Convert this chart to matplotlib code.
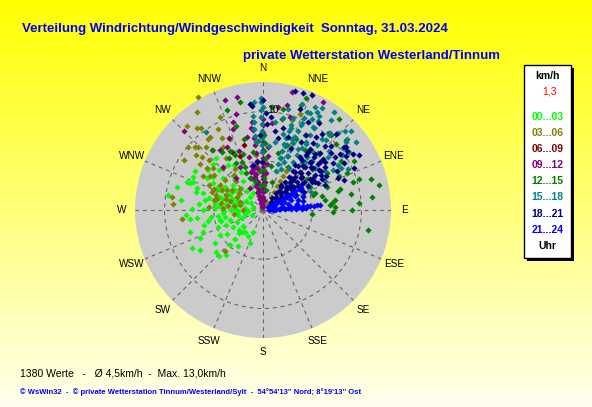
import numpy as np
import matplotlib
matplotlib.use("Agg")
import matplotlib.pyplot as plt
from matplotlib.patches import Rectangle

# Messwerte als (Windrichtung in Grad, Geschwindigkeit in km/h), je 3-Stunden-Block
pts_00_03 = [(266, 7.8), (253, 7.8), (246, 7.0), (238, 7.6), (235, 5.9), (228, 6.4), (224, 6.5), (219, 5.9),
             (223, 4.9), (224, 4.1), (224, 3.1), (219, 2.9), (227, 3.4), (201, 3.6), (204, 2.5), (240, 5.1),
             (249, 4.9), (257, 4.5), (253, 3.5), (270, 6.1), (272, 5.6), (266, 4.1), (258, 2.6), (240, 3.5),
             (245, 2.9), (246, 1.2), (290, 8.2), (292, 7.7), (279, 9.8), (285, 7.0), (303, 6.1), (318, 7.1),
             (306, 6.9), (295, 7.9), (290, 7.9), (334, 6.6), (327, 5.5), (275, 4.5), (280, 3.8), (285, 4.2),
             (290, 3.3), (295, 4.8), (300, 3.6), (305, 2.8), (310, 4.0), (315, 3.1), (270, 3.2), (265, 2.5),
             (260, 3.9), (255, 4.4), (262, 5.3), (272, 4.9), (283, 5.6), (288, 2.2), (298, 2.0), (308, 5.2),
             (320, 2.5), (325, 3.6), (330, 4.4), (312, 6.0), (298, 5.8), (276, 1.8), (258, 1.9), (250, 2.3),
             (268, 4.0), (282, 2.7), (292, 5.5), (302, 4.5), (275, 6.5), (286, 6.3), (263, 6.8), (215, 4.5),
             (210, 3.0), (230, 3.2), (242, 8.2), (256, 6.2), (300, 8.0), (280, 1.0), (300, 1.4),
             (315, 1.8), (330, 2.0), (340, 2.8), (250, 6.5), (278, 4.9), (284, 3.1), (294, 3.8), (287, 4.6),
             (273, 2.7), (268, 1.5), (262, 4.6), (292, 2.8), (306, 3.5), (296, 5.2), (280, 6.0), (271, 7.2),
             (259, 5.7), (248, 4.0), (236, 4.4), (232, 2.6), (318, 4.6), (322, 5.8), (313, 6.9), (288, 7.1),
             (300, 6.6), (277, 8.4), (285, 9.0), (263, 7.5)]

pts_03_06 = [(330, 13.3), (321, 10.7), (318, 8.6), (314, 9.2), (322, 9.1), (330, 8.4), (328, 7.6), (331, 9.4),
             (311, 8.2), (306, 7.9), (307, 7.1), (316, 5.9), (306, 6.1), (300, 5.1), (289, 5.5), (308, 4.9),
             (278, 9.3), (274, 9.2), (264, 8.3), (223, 5.7), (273, 5.5), (280, 4.3), (273, 4.1), (282, 2.4),
             (323, 10.4), (335, 10.4), (321, 4.6), (285, 3.5), (292, 4.0), (297, 3.0), (303, 3.8), (278, 3.0),
             (288, 5.0), (295, 6.0), (312, 3.2), (270, 2.0), (262, 3.0), (300, 7.0), (313, 7.5), (325, 6.5),
             (318, 11.5), (310, 10.0), (302, 9.5), (326, 12.0), (335, 8.0), (21, 10.4), (18, 9.6),
             (296, 4.6), (284, 4.8), (276, 3.6), (310, 6.6), (290, 2.5), (305, 3.0), (324, 9.2), (313, 9.4),
             (353, 5.6), (352, 4.5), (299, 4.2), (293, 5.4), (287, 3.9), (281, 5.1), (317, 4.0), (326, 5.0),
             (303, 6.4), (320, 7.9), (309, 8.8)]
rays_03_06 = {31: [0.8, 1.5, 2.1, 2.8, 3.4, 4.0, 4.6]}

pts_06_09 = [(332, 6.7), (344, 6.9), (337, 6.0)]

pts_09_12 = [(347, 11.8), (341, 11.8), (315, 11.3), (14, 12.3), (13, 10.9), (341, 9.4), (340, 8.8), (324, 7.5),
             (317, 6.0), (348, 7.6), (352, 8.4), (6, 8.9), (29, 12.5), (335, 8.1), (330, 7.4), (329, 2.6),
             (344, 10.1), (338, 6.5), (345, 5.6), (332, 5.0), (340, 3.5), (320, 4.2), (8, 10.6), (16, 9.8)]
rays_09_12 = {0: [0.4, 0.9, 1.3, 1.8, 2.2, 2.6, 3.1, 3.5, 3.9, 4.4, 4.8, 5.3, 6.1, 6.9, 7.8, 8.6, 9.2],
              346: [0.3, 0.7, 1.1, 1.5, 1.9, 2.3, 2.7, 3.1, 3.5, 3.9, 4.3, 4.6],
              343: [0.5, 1.2, 1.9, 2.6, 3.3, 4.0],
              349: [0.6, 1.4, 2.1, 2.9, 3.7, 4.4],
              353: [4.2, 5.0, 5.8, 6.6, 7.4, 8.2, 9.0],
              5: [1.0, 2.0, 2.9, 3.8, 4.7, 5.5, 6.4]}

pts_12_15 = [(2, 2.5), (2, 3.3), (1, 4.1), (2, 5.2), (1, 6.0), (2, 6.8), (1, 7.6), (101, 10.9), (92, 7.1),
             (84, 7.0), (73, 9.6), (76, 7.9), (81, 6.4), (88, 7.3), (72, 5.6), (66, 9.3), (42, 10.3), (21, 12.2),
             (83, 11.2), (72, 10.2), (333, 6.3), (336, 5.3), (325, 7.2), (340, 10.8), (337, 4.7), (338, 3.5),
             (350, 6.0), (355, 4.0), (345, 7.5), (10, 4.5), (15, 6.0), (20, 7.0), (25, 8.0), (12, 9.5), (5, 10.5),
             (35, 7.5), (45, 8.0), (50, 6.5), (55, 5.5), (60, 7.5), (62, 10.5), (50, 11.0), (40, 12.0), (95, 5.0),
             (90, 9.0), (78, 12.0), (30, 5.0), (18, 3.0), (8, 2.0), (352, 2.5), (342, 9.0), (348, 11.2),
             (330, 5.5), (327, 6.3), (75, 8.1), (73, 5.3), (72, 4.3), (64, 5.3), (11, 10.4), (20, 11.4),
             (77, 6.2), (86, 6.8), (82, 7.4), (320, 8.0), (345, 3.0), (335, 4.2), (66, 8.4), (70, 6.9),
             (58, 9.4), (48, 10.0), (80, 9.1), (74, 11.4), (86, 9.8), (340, 6.0), (331, 6.9), (356, 7.0)]

pts_15_18 = [(0, 10.5), (12, 9.6), (19, 8.8), (24, 9.7), (29, 8.7), (31, 9.8), (26, 11.0), (27, 11.7), (30, 12.0),
             (31, 11.1), (41, 10.4), (44, 10.9), (51, 10.9), (52, 10.3), (59, 8.9), (62, 9.0), (44, 8.1),
             (30, 7.1), (19, 6.9), (19, 5.6), (41, 6.5), (51, 6.8), (58, 7.4), (60, 8.2), (51, 8.5), (61, 5.2),
             (69, 5.2), (45, 3.6), (50, 11.2), (29, 11.4), (324, 9.8), (355, 11.0), (25, 6.0), (35, 6.5),
             (38, 7.5), (45, 7.0), (48, 9.0), (33, 8.0), (22, 7.8), (42, 9.5), (55, 9.8), (15, 8.0), (10, 7.0),
             (5, 6.5), (28, 10.5), (37, 11.5), (20, 11.5), (36, 12.3), (48, 12.0), (56, 10.5), (65, 7.0),
             (8, 9.0), (14, 10.6), (46, 11.6), (54, 11.7), (64, 9.6)]
rays_15_18 = {359: [5.9, 6.6, 7.3, 8.0, 8.7, 9.4, 10.2, 11.0, 11.4],
              354: [6.9, 7.6, 8.3, 9.0, 9.6],
              18: [4.2, 4.9, 5.6, 6.3, 7.0, 7.7, 8.4, 9.1, 9.8],
              24: [4.6, 5.3, 6.0, 6.7, 7.4, 8.1, 8.8, 9.5, 10.2, 10.9],
              32: [5.0, 5.8, 6.6, 7.4, 8.2, 9.0, 9.8, 10.6],
              40: [6.2, 7.0, 7.8, 8.6, 9.4, 10.2]}

pts_18_21 = [(15, 12.5), (23, 12.7), (20, 10.9), (44, 10.7), (53, 10.6), (54, 9.7), (56, 8.6), (59, 6.9),
             (358, 7.6), (44, 9.0), (50, 7.6), (45, 6.9), (38, 7.5), (29, 7.9), (24, 6.9), (35, 5.6), (46, 5.4),
             (41, 4.3), (36, 3.1), (51, 2.9), (60, 4.5), (60, 5.7), (62, 7.3), (54, 9.1), (57, 10.0), (58, 10.8),
             (67, 8.3), (66, 3.7), (12, 7.5), (9, 8.1), (3, 8.7), (5, 9.5), (19, 12.6), (14, 8.6), (19, 7.8),
             (37, 8.5), (36, 9.2), (359, 4.9), (347, 4.7), (353, 10.8), (353, 4.9), (354, 10.6), (52, 10.4),
             (55, 10.4), (55, 7.7), (45, 4.3), (40, 5.0), (42, 6.0), (48, 6.5), (50, 5.0), (52, 8.0), (55, 7.0),
             (57, 6.0), (45, 8.2), (47, 9.5), (38, 9.8), (33, 10.5), (62, 8.5), (64, 6.2), (60, 9.5), (50, 9.0),
             (43, 7.8), (35, 6.6), (30, 8.8), (27, 10.0), (53, 3.9), (56, 4.8), (48, 3.5), (41, 2.5), (58, 2.2),
             (63, 3.0), (66, 4.6), (68, 6.8), (70, 8.8), (65, 10.2), (60, 11.2), (0, 11.2), (2, 9.9)]
rays_18_21 = {38: [1.5, 2.2, 2.9, 3.6, 4.3, 5.0, 5.7, 6.4, 7.1, 7.8],
              44: [1.2, 1.9, 2.6, 3.3, 4.0, 4.7, 5.4, 6.1, 6.8, 7.5],
              50: [1.0, 1.7, 2.4, 3.1, 3.8, 4.5, 5.2, 5.9, 6.6, 7.3, 8.0],
              56: [1.5, 2.2, 2.9, 3.6, 4.3, 5.0, 5.7, 6.4, 7.1],
              62: [2.0, 2.8, 3.6, 4.4, 5.2, 6.0, 6.8]}

pts_21_24 = [(65, 1.5), (68, 2.3), (70, 3.0), (72, 2.0), (75, 1.2), (77, 2.6), (80, 3.5), (82, 1.8), (74, 3.7),
             (78, 4.2), (63, 2.8), (66, 3.6), (71, 4.3), (76, 0.9), (83, 2.9), (79, 1.0), (90, 0.6), (92, 1.2)]
rays_21_24 = {85: [0.8, 1.3, 1.7, 2.1, 2.5, 2.9, 3.3, 3.7, 4.1, 4.5, 4.8, 5.2, 5.5, 5.8],
              88: [1.0, 1.6, 2.2, 2.8, 3.4, 4.0, 4.4],
              60: [0.6, 1.0, 1.4, 1.8, 2.2, 2.6, 3.0, 3.4, 3.8, 4.2, 4.5]}

slot_labels = ["00...03", "03...06", "06...09", "09...12", "12...15", "15...18", "18...21", "21...24"]
slot_colors = ["#00ff00", "#808000", "#800000", "#800080", "#008000", "#008080", "#000080", "#0000ff"]
slot_points = [pts_00_03, pts_03_06, pts_06_09, pts_09_12, pts_12_15, pts_15_18, pts_18_21, pts_21_24]
slot_rays = [{}, rays_03_06, {}, rays_09_12, {}, rays_15_18, rays_18_21, rays_21_24]

dir_labels = ["N", "NNE", "NE", "ENE", "E", "ESE", "SE", "SSE",
              "S", "SSW", "SW", "WSW", "W", "WNW", "NW", "NNW"]

title = "Verteilung Windrichtung/Windgeschwindigkeit  Sonntag, 31.03.2024"
subtitle = "private Wetterstation Westerland/Tinnum"
stats = "1380 Werte   -   \u00d8 4,5km/h  -  Max. 13,0km/h"
footer = "\u00a9 WsWin32  -  \u00a9 private Wetterstation Tinnum/Westerland/Sylt  -  54\u00b054'13'' Nord; 8\u00b019'13'' Ost"

W, H = 592, 407
plain = ["Liberation Sans", "DejaVu Sans"]

fig = plt.figure(figsize=(W / 100, H / 100), dpi=100)

# gelber Verlauf im Hintergrund
bg = fig.add_axes([0, 0, 1, 1])
grad = np.linspace(0, 0.93, 256)
img = np.ones((256, 2, 3))
img[:, :, 2] = grad[:, None]
bg.imshow(img, aspect="auto", extent=[0, 1, 0, 1], origin="upper")
bg.axis("off")

def px(x, y):
    return x / W, 1 - y / H

# Polardiagramm: Mitte (263, 210), Radius 128 px
ax = fig.add_axes([135 / W, 69 / H, 256 / W, 256 / H], projection="polar")
ax.set_theta_zero_location("N")
ax.set_theta_direction(-1)
ax.set_facecolor("#cbcbcb")
ax.set_ylim(0, 13)
ax.set_xticks(np.deg2rad(np.arange(0, 360, 22.5)))
ax.set_xticklabels([])
ax.set_yticks([5, 10])
ax.set_yticklabels([])
ax.grid(True, color="#666666", linestyle=(0, (3.5, 3.5)), linewidth=0.8)
ax.spines["polar"].set_visible(False)
ax.text(np.deg2rad(2.5), 10.2, "10", fontsize=7.5, family=plain, ha="left", va="center", zorder=4)

for ang, lab in zip(np.arange(0, 360, 22.5), dir_labels):
    ax.text(np.deg2rad(ang), 14.4, lab, fontsize=7.2, family=plain, ha="center", va="center", clip_on=False)

for pts, rays, col in zip(slot_points, slot_rays, slot_colors):
    d = [p[0] for p in pts]
    s = [p[1] for p in pts]
    for rd, speeds in rays.items():
        d += [rd] * len(speeds)
        s += speeds
    ax.scatter(np.deg2rad(d), s, marker="D", s=10, color=col, linewidths=0, zorder=3, clip_on=False)

# Titel
fig.text(*px(22, 29), title, color="#0000ff", fontsize=9.5, weight="bold", family=plain, va="center")
fig.text(*px(243, 56), subtitle, color="#0000ff", fontsize=9.5, weight="bold", family=plain, va="center")

# Legendenkasten mit Schatten
bx, by, bw, bh = 524, 65, 47, 193
fig.patches.append(Rectangle(px(bx + 3, by + bh + 3), bw / W, bh / H, transform=fig.transFigure,
                             facecolor="#000000", edgecolor="none", zorder=1))
fig.patches.append(Rectangle(px(bx, by + bh), bw / W, bh / H, transform=fig.transFigure,
                             facecolor="white", edgecolor="black", linewidth=1, zorder=2))
cx = bx + bw / 2
fig.text(*px(cx, 76), "km/h", fontsize=7.5, weight="bold", family=plain, ha="center", va="center", zorder=3)
fig.text(*px(cx + 2, 91), "1,3", fontsize=7.5, color="#ff0000", family=plain, ha="center", va="center", zorder=3)
for i, (lab, col) in enumerate(zip(slot_labels, slot_colors)):
    fig.text(*px(cx, 117 + i * 16.1), lab, fontsize=7.5, weight="bold", color=col, family=plain,
             ha="center", va="center", zorder=3)
fig.text(*px(cx, 246), "Uhr", fontsize=7.5, weight="bold", family=plain, ha="center", va="center", zorder=3)

# Fusszeilen
fig.text(*px(20, 373), stats, fontsize=7.5, family=plain, va="center")
fig.text(*px(20, 392), footer, fontsize=5.5, weight="bold", color="#0000ff", family=plain, va="center")

fig.savefig("out.png", dpi=100)
